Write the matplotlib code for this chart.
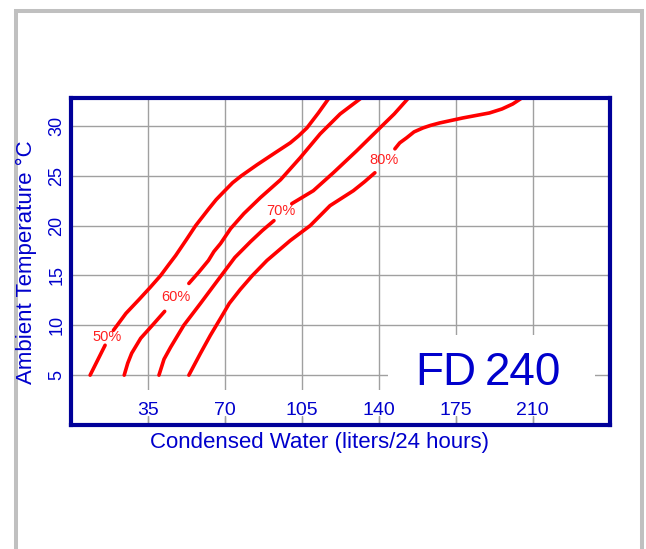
import matplotlib
matplotlib.use("Agg")
import matplotlib.pyplot as plt
from matplotlib.patches import Rectangle
from matplotlib.lines import Line2D

plt.rcParams['font.family'] = ['Liberation Sans', 'DejaVu Sans']

# ---- data ----
x_ticks = [35, 70, 105, 140, 175, 210]
y_ticks = [5, 10, 15, 20, 25, 30]

rh50_lo_x = [8.7, 15.5]
rh50_lo_y = [5.0, 8.0]
rh50_hi_x = [19.3, 25.0, 31.0, 36.0, 40.8, 44.5, 47.6, 52.5, 56.7, 62.7, 66.0, 69.5, 73.5, 77.5, 84.6, 92.8, 99.7, 103.5, 107.3, 112.5, 118.0]
rh50_hi_y = [9.5, 11.2, 12.6, 13.8, 15.0, 16.1, 17.0, 18.6, 20.0, 21.7, 22.6, 23.4, 24.3, 25.0, 26.1, 27.3, 28.3, 29.0, 29.8, 31.3, 33.0]

rh60_lo_x = [24.2, 25.8, 27.6, 31.7, 37.0, 42.6]
rh60_lo_y = [5.0, 6.2, 7.2, 8.7, 10.0, 11.4]
rh60_hi_x = [53.6, 58.0, 62.5, 65.0, 68.0, 72.6, 78.6, 86.1, 95.3, 104.2, 113.3, 122.4, 133.2]
rh60_hi_y = [14.2, 15.3, 16.5, 17.4, 18.2, 19.7, 21.2, 22.8, 24.6, 26.8, 29.2, 31.2, 33.0]

rh70_lo_x = [40.0, 42.3, 45.3, 51.3, 58.9, 66.0, 74.5, 81.7, 87.0, 92.3]
rh70_lo_y = [5.0, 6.6, 7.8, 10.0, 12.2, 14.3, 16.8, 18.4, 19.5, 20.5]
rh70_hi_x = [100.4, 110.2, 119.3, 129.9, 140.5, 147.0, 154.3]
rh70_hi_y = [22.2, 23.5, 25.3, 27.5, 29.8, 31.2, 33.0]

rh80_lo_x = [53.6, 58.9, 63.4, 68.0, 72.0, 77.0, 82.5, 89.1, 99.7, 108.8, 117.8, 128.4, 133.5, 138.2]
rh80_lo_y = [5.0, 7.2, 9.0, 10.7, 12.2, 13.6, 15.0, 16.5, 18.5, 20.0, 22.0, 23.5, 24.4, 25.3]
rh80_hi_x = [147.3, 149.5, 152.6, 156.0, 160.1, 163.5, 167.7, 178.2, 190.3, 196.0, 200.9, 206.4]
rh80_hi_y = [27.7, 28.3, 28.8, 29.4, 29.8, 30.05, 30.3, 30.8, 31.3, 31.7, 32.2, 33.0]

rh_labels = ["50%", "60%", "70%", "80%"]
rh_label_x = [16.6, 47.9, 95.5, 142.4]
rh_label_y = [8.8, 12.8, 21.5, 26.6]

BLUE = '#0000cc'
NAVY = '#000099'
RED = '#ff0000'
GRID = '#a0a0a0'

W, H = 646, 549
fig = plt.figure(figsize=(W / 100, H / 100), dpi=100)
fig.patch.set_facecolor('white')

# outer grey frame
frame_kw = dict(color='#c0c0c0', lw=2.9, solid_capstyle='butt')
fig.add_artist(Line2D([16 / W, 16 / W], [0, 1 - 9 / H], **frame_kw))
fig.add_artist(Line2D([642 / W, 642 / W], [0, 1 - 9 / H], **frame_kw))
fig.add_artist(Line2D([14 / W, 644 / W], [1 - 10.5 / H, 1 - 10.5 / H], **frame_kw))

ax_l, ax_r, ax_t, ax_b = 71, 609.5, 98, 425
ax = fig.add_axes([ax_l / W, 1 - ax_b / H, (ax_r - ax_l) / W, (ax_b - ax_t) / H])
ax.set_xlim(0, 244.9)
ax.set_ylim(0, 32.8)

for s in ax.spines.values():
    s.set_color(NAVY)
    s.set_linewidth(3)
    s.set_zorder(6)

ax.set_xticks(x_ticks)
ax.set_yticks(y_ticks)
ax.grid(True, color=GRID, lw=1.0)
ax.set_axisbelow(True)
ax.tick_params(axis='x', which='both', direction='in', length=6, color=GRID,
               width=1.0, labelbottom=False)
ax.tick_params(axis='y', which='both', left=False, right=True, direction='in',
               length=2, color=GRID, width=1.0, labelleft=True, pad=4,
               labelsize=13, labelcolor=BLUE)
for lab in ax.get_yticklabels():
    lab.set_rotation(90)
    lab.set_va('center')

# white areas hiding the grid behind labels
ax.add_patch(Rectangle((0, 0.9), 244.9, 2.6, facecolor='white', edgecolor='none', zorder=1))
ax.add_patch(Rectangle((144.3, 0.9), 94.0, 8.1, facecolor='white', edgecolor='none', zorder=1))

# x tick labels inside the axes
for xv in x_ticks:
    ax.text(xv, 1.05, str(xv), ha='center', va='baseline', fontsize=14, color=BLUE, zorder=3)

# curves
line_kw = dict(color=RED, lw=2.6, solid_capstyle='round', solid_joinstyle='round', zorder=3)
for xs, ys in [(rh50_lo_x, rh50_lo_y), (rh50_hi_x, rh50_hi_y),
               (rh60_lo_x, rh60_lo_y), (rh60_hi_x, rh60_hi_y),
               (rh70_lo_x, rh70_lo_y), (rh70_hi_x, rh70_hi_y),
               (rh80_lo_x, rh80_lo_y), (rh80_hi_x, rh80_hi_y)]:
    ax.plot(xs, ys, **line_kw)

for t, xv, yv in zip(rh_labels, rh_label_x, rh_label_y):
    ax.text(xv, yv, t, ha='center', va='center', fontsize=10.5, color='#ff2020', zorder=4)

# model name
ax.text(156.4, 4.0, "FD", ha='left', va='baseline', fontsize=33, color=BLUE, zorder=4)
ax.text(188.2, 4.0, "240", ha='left', va='baseline', fontsize=33, color=BLUE, zorder=4)

fig.text(319 / W, 1 - 448 / H, "Condensed Water (liters/24 hours)", ha='center', va='baseline',
         fontsize=16, color=BLUE)
fig.text(26 / W, 1 - 262.5 / H, "Ambient Temperature \u00b0C", ha='center', va='center',
         rotation=90, fontsize=16, color=BLUE)

fig.savefig("out.png", dpi=100, facecolor='white')
